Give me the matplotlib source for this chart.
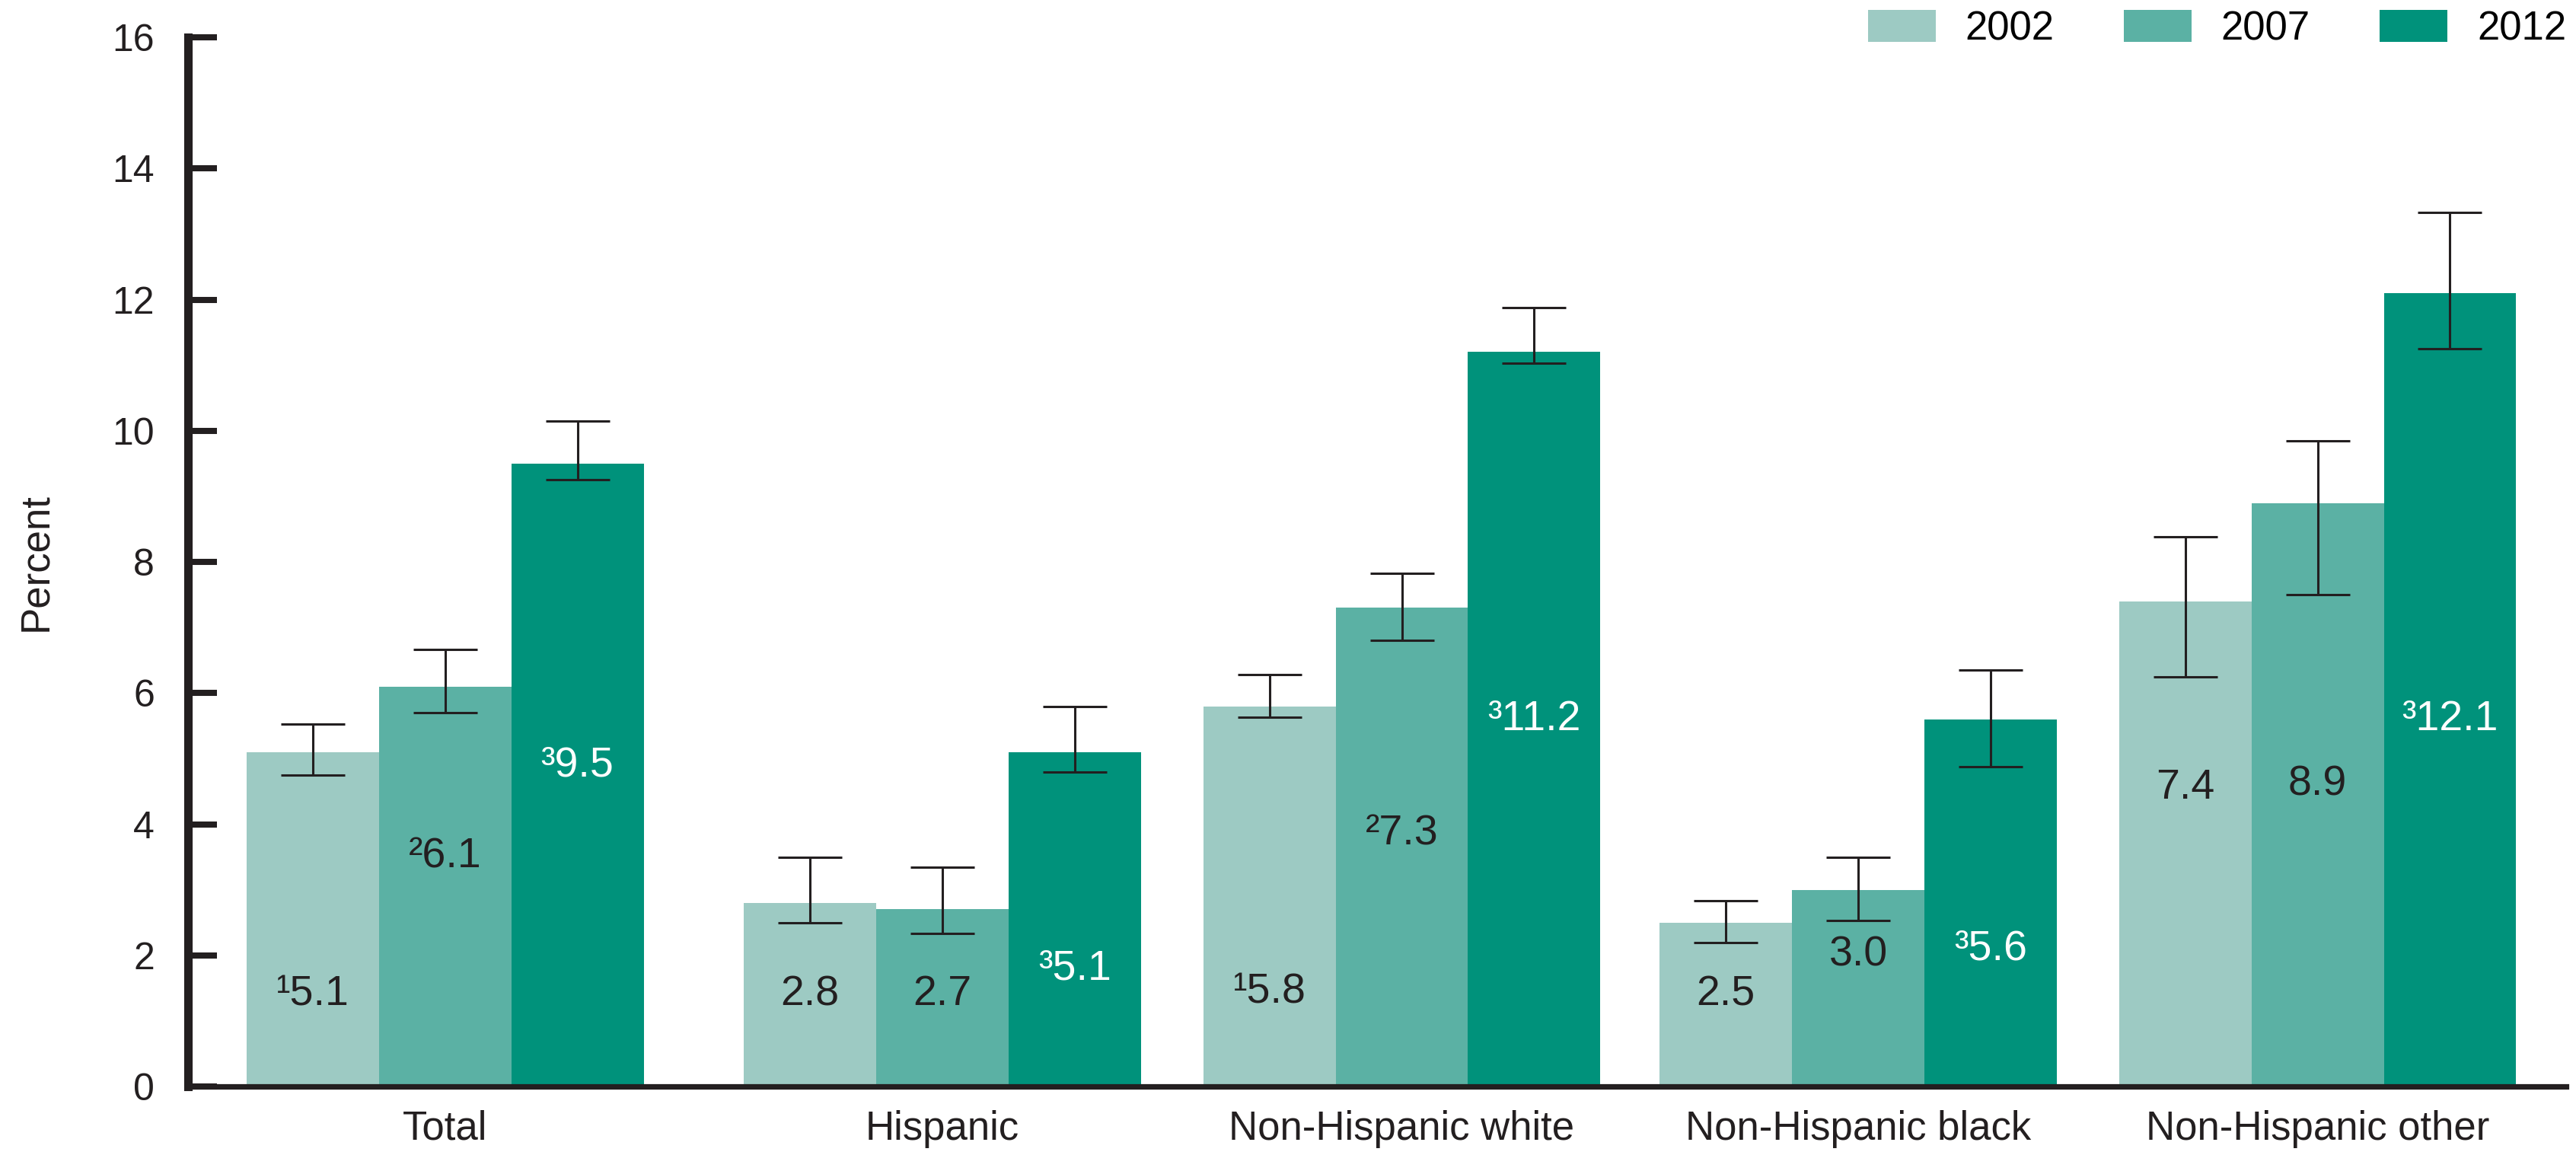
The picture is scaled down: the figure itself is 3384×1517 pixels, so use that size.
import matplotlib
matplotlib.use("Agg")
import matplotlib.pyplot as plt
import numpy as np

plt.rcParams["font.family"] = ["Liberation Sans", "DejaVu Sans"]

groups = ["Total", "Hispanic", "Non-Hispanic white", "Non-Hispanic black", "Non-Hispanic other"]
years = ["2002", "2007", "2012"]

pct_2002 = [5.1, 2.8, 5.8, 2.5, 7.4]
pct_2007 = [6.1, 2.7, 7.3, 3.0, 8.9]
pct_2012 = [9.5, 5.1, 11.2, 5.6, 12.1]

# confidence limits (lower, upper)
lo_2002 = [4.75, 2.5, 5.63, 2.2, 6.25]
hi_2002 = [5.53, 3.5, 6.28, 2.83, 8.38]
lo_2007 = [5.7, 2.33, 6.8, 2.53, 7.5]
hi_2007 = [6.66, 3.35, 7.83, 3.5, 9.85]
lo_2012 = [9.25, 4.8, 11.03, 4.88, 11.25]
hi_2012 = [10.15, 5.8, 11.88, 6.35, 13.33]

# footnote markers for the value labels
notes_2002 = ["\u00b9", "", "\u00b9", "", ""]
notes_2007 = ["\u00b2", "", "\u00b2", "", ""]
notes_2012 = ["\u00b3", "\u00b3", "\u00b3", "\u00b3", "\u00b3"]

colors = ["#9dcac3", "#5bb1a4", "#00927b"]
ink = "#231f20"

# layout: group centres and where each value label sits
group_x = np.array([0, 1.082, 2.082, 3.075, 4.075])
label_y = [
    [1.4, 1.4, 1.43, 1.4, 4.55],
    [3.5, 1.4, 3.85, 2.0, 4.6],
    [4.9, 1.8, 5.6, 2.1, 5.6],
]

fig = plt.figure(figsize=(16.92, 7.585), dpi=200)
ax = fig.add_axes([0.0731, 0.0593, 0.9231, 0.9084])

w = 0.288
series = [(pct_2002, lo_2002, hi_2002, notes_2002),
          (pct_2007, lo_2007, hi_2007, notes_2007),
          (pct_2012, lo_2012, hi_2012, notes_2012)]

for i, (vals, lo, hi, notes) in enumerate(series):
    xs = group_x + (i - 1) * w
    vals = np.array(vals)
    yerr = [vals - np.array(lo), np.array(hi) - vals]
    ax.bar(xs, vals, width=w, color=colors[i], label=years[i], zorder=2)
    ax.errorbar(xs, vals, yerr=yerr, fmt="none", ecolor=ink, elinewidth=1.1,
                capsize=15, capthick=1.1, zorder=3)
    tc = "white" if i == 2 else ink
    for x, v, n, ly in zip(xs, vals, notes, label_y[i]):
        ax.text(x, ly, f"{n}{v:.1f}", ha="center", va="center",
                fontsize=20, color=tc, zorder=4)

ax.set_ylim(0, 16)
ax.set_xlim(-0.559, 4.616)
ax.set_yticks(range(0, 17, 2))
ax.set_xticks(group_x)
ax.set_xticklabels(groups)

for s in ["top", "right"]:
    ax.spines[s].set_visible(False)
ax.spines["left"].set_linewidth(4)
ax.spines["bottom"].set_linewidth(2.6)
ax.spines["left"].set_color(ink)
ax.spines["bottom"].set_color(ink)
ax.spines["bottom"].set_zorder(5)
ax.spines["left"].set_zorder(5)

ax.tick_params(axis="y", direction="in", length=13.7, width=2.9, color=ink,
               labelsize=18, labelcolor=ink, pad=16)
ax.tick_params(axis="x", length=0, labelsize=19, labelcolor=ink, pad=11)

ax.set_ylabel("Percent", fontsize=19, color=ink, labelpad=27)

ax.legend(loc="center right", bbox_to_anchor=(1.0, 1.0076), ncol=3, frameon=False,
          fontsize=19, handlelength=1.69, handleheight=0.85, handletextpad=0.74,
          columnspacing=1.72, borderaxespad=0, borderpad=0)

fig.savefig("out.png", dpi=200)
